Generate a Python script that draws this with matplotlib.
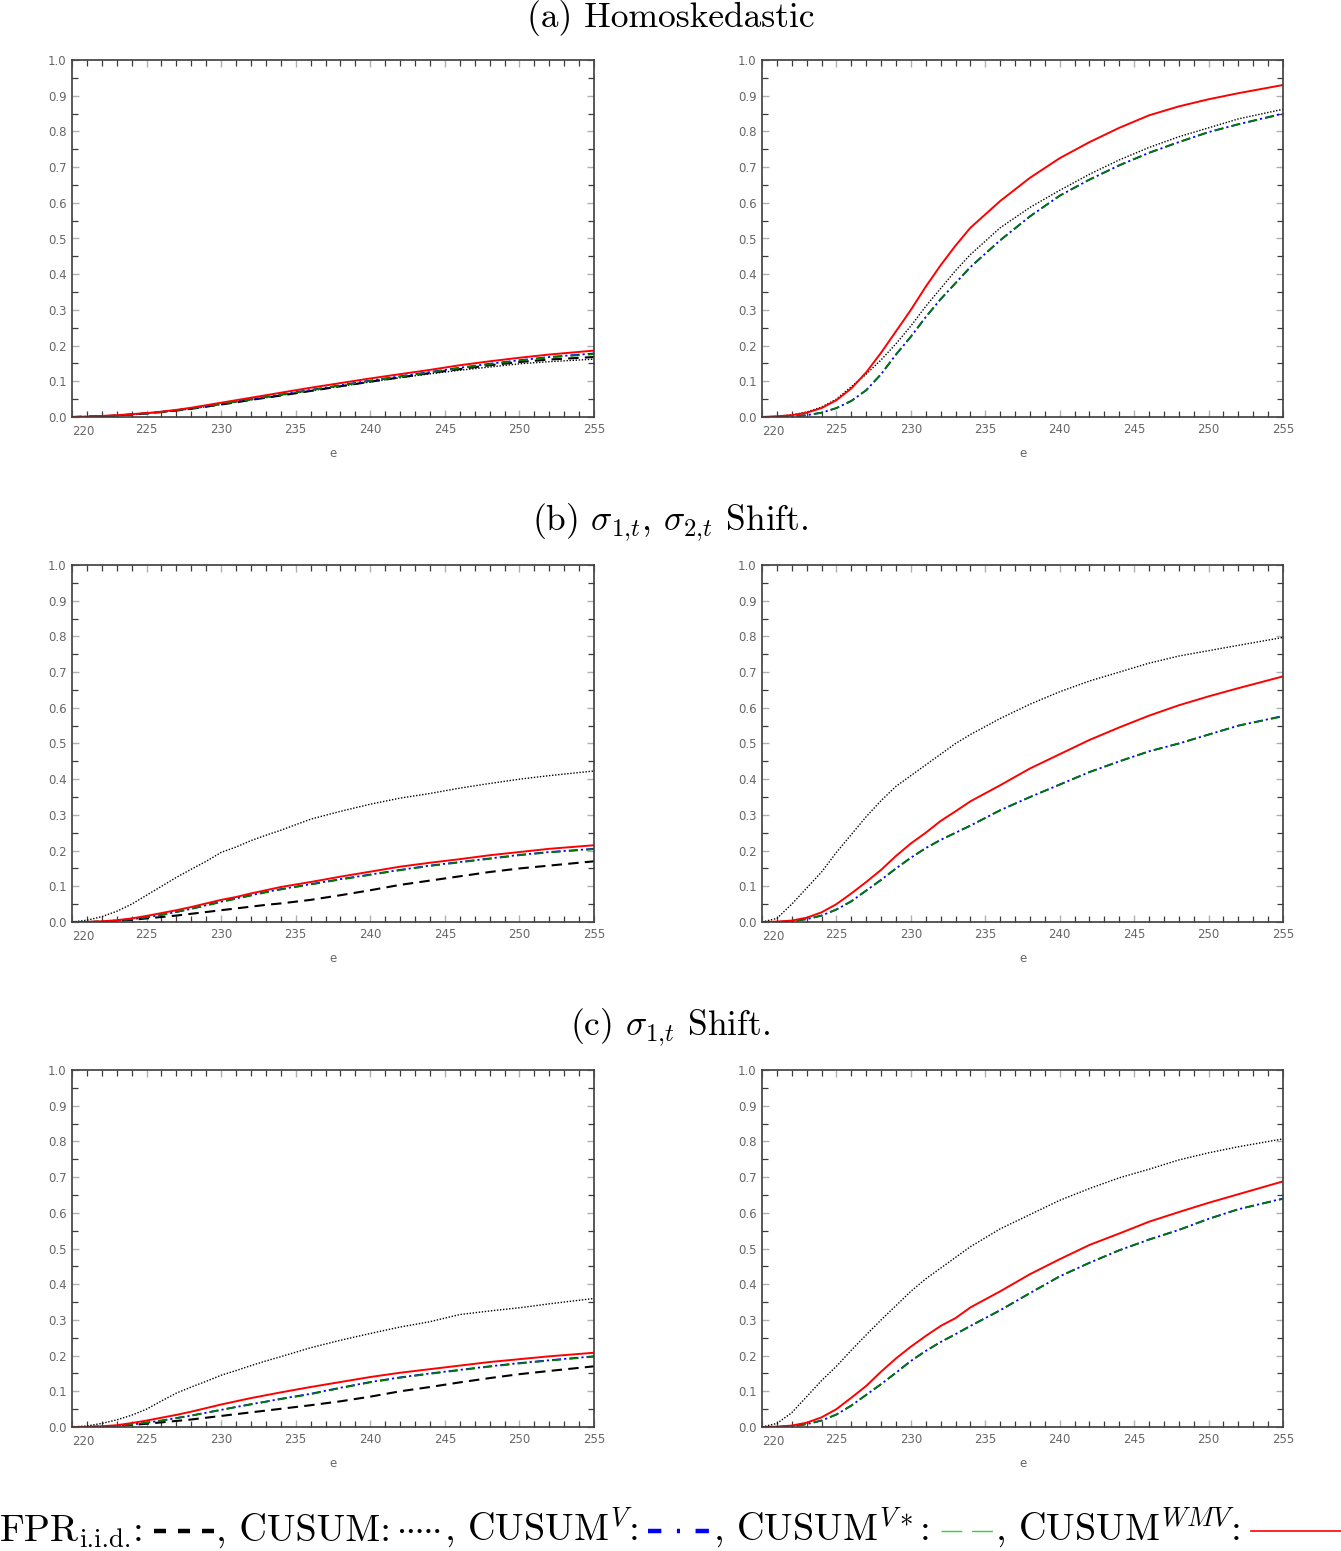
import numpy as np
import matplotlib
matplotlib.use("Agg")
import matplotlib.pyplot as plt
from matplotlib.lines import Line2D
from matplotlib.ticker import MultipleLocator

plt.rcParams['mathtext.fontset'] = 'cm'
plt.rcParams['axes.unicode_minus'] = False

# --- data ---
e = [220, 221, 222, 223, 224, 225, 226, 227, 228, 229, 230, 231, 232, 233, 234,
     236, 238, 240, 242, 244, 246, 248, 250, 252, 255]

# (a) Homoskedastic
a_l_fpr = [0, 0.001, 0.002, 0.004, 0.007, 0.010, 0.014, 0.018, 0.023, 0.029, 0.035, 0.041, 0.048,
           0.054, 0.060, 0.073, 0.086, 0.099, 0.111, 0.123, 0.134, 0.145, 0.154, 0.161, 0.168]
a_l_cusum = [0, 0.001, 0.002, 0.004, 0.007, 0.010, 0.014, 0.018, 0.023, 0.029, 0.035, 0.042, 0.048,
             0.054, 0.061, 0.073, 0.086, 0.098, 0.110, 0.121, 0.131, 0.140, 0.149, 0.155, 0.162]
a_l_v = [0, 0.001, 0.002, 0.004, 0.007, 0.010, 0.014, 0.019, 0.024, 0.030, 0.037, 0.043, 0.050,
         0.056, 0.063, 0.076, 0.089, 0.102, 0.114, 0.126, 0.138, 0.149, 0.159, 0.168, 0.178]
a_l_vs = [0, 0.001, 0.002, 0.004, 0.007, 0.010, 0.014, 0.019, 0.024, 0.030, 0.036, 0.043, 0.049,
          0.056, 0.062, 0.075, 0.088, 0.101, 0.113, 0.125, 0.137, 0.148, 0.158, 0.167, 0.176]
a_l_wmv = [0, 0.001, 0.003, 0.005, 0.008, 0.011, 0.015, 0.020, 0.026, 0.033, 0.040, 0.047, 0.054,
           0.061, 0.068, 0.082, 0.095, 0.108, 0.120, 0.132, 0.145, 0.156, 0.166, 0.175, 0.186]

a_r_cusum = [0, 0.002, 0.006, 0.014, 0.028, 0.050, 0.085, 0.120, 0.160, 0.205, 0.255, 0.310, 0.360,
             0.410, 0.455, 0.530, 0.587, 0.635, 0.680, 0.720, 0.755, 0.785, 0.810, 0.835, 0.862]
a_r_v = [0, 0, 0.002, 0.005, 0.012, 0.025, 0.045, 0.075, 0.120, 0.175, 0.225, 0.280, 0.330,
         0.375, 0.420, 0.495, 0.562, 0.620, 0.665, 0.705, 0.740, 0.770, 0.798, 0.820, 0.850]
a_r_vs = [0, 0, 0.002, 0.005, 0.012, 0.025, 0.045, 0.075, 0.120, 0.175, 0.225, 0.280, 0.330,
          0.375, 0.420, 0.495, 0.562, 0.620, 0.665, 0.705, 0.740, 0.770, 0.798, 0.820, 0.849]
a_r_wmv = [0, 0.002, 0.005, 0.012, 0.025, 0.047, 0.080, 0.125, 0.180, 0.240, 0.300, 0.365, 0.425,
           0.480, 0.530, 0.605, 0.670, 0.725, 0.770, 0.810, 0.845, 0.870, 0.890, 0.907, 0.930]

# (b) sigma_1,t, sigma_2,t shift
b_l_fpr = [0, 0, 0.001, 0.003, 0.006, 0.010, 0.014, 0.018, 0.023, 0.028, 0.033, 0.038, 0.043,
           0.048, 0.052, 0.062, 0.075, 0.089, 0.104, 0.116, 0.128, 0.140, 0.150, 0.158, 0.170]
b_l_cusum = [0, 0.005, 0.015, 0.030, 0.050, 0.075, 0.100, 0.125, 0.148, 0.170, 0.195, 0.210, 0.228,
             0.243, 0.257, 0.288, 0.310, 0.330, 0.347, 0.360, 0.375, 0.388, 0.400, 0.410, 0.423]
b_l_v = [0, 0, 0.001, 0.004, 0.008, 0.013, 0.020, 0.028, 0.037, 0.047, 0.057, 0.066, 0.075,
         0.084, 0.092, 0.106, 0.120, 0.133, 0.146, 0.158, 0.168, 0.178, 0.188, 0.196, 0.205]
b_l_vs = [0, 0, 0.001, 0.004, 0.008, 0.013, 0.020, 0.028, 0.037, 0.046, 0.056, 0.065, 0.074,
          0.083, 0.091, 0.105, 0.119, 0.132, 0.145, 0.157, 0.167, 0.177, 0.187, 0.195, 0.204]
b_l_wmv = [0, 0, 0.002, 0.005, 0.010, 0.017, 0.025, 0.033, 0.042, 0.052, 0.062, 0.070, 0.080,
           0.089, 0.098, 0.112, 0.127, 0.141, 0.155, 0.166, 0.176, 0.187, 0.196, 0.205, 0.215]

b_r_cusum = [0, 0.010, 0.050, 0.095, 0.140, 0.195, 0.245, 0.295, 0.340, 0.380, 0.410, 0.440, 0.470,
             0.500, 0.525, 0.570, 0.610, 0.645, 0.675, 0.700, 0.725, 0.745, 0.760, 0.775, 0.797]
b_r_v = [0, 0, 0.002, 0.008, 0.018, 0.035, 0.058, 0.088, 0.118, 0.150, 0.180, 0.207, 0.230,
         0.250, 0.270, 0.313, 0.350, 0.385, 0.420, 0.450, 0.478, 0.500, 0.525, 0.550, 0.577]
b_r_vs = [0, 0, 0.002, 0.008, 0.018, 0.035, 0.058, 0.088, 0.118, 0.150, 0.180, 0.207, 0.230,
          0.250, 0.270, 0.313, 0.350, 0.385, 0.420, 0.450, 0.478, 0.500, 0.525, 0.550, 0.576]
b_r_wmv = [0, 0.001, 0.004, 0.012, 0.027, 0.050, 0.080, 0.112, 0.146, 0.185, 0.220, 0.250, 0.283,
           0.310, 0.338, 0.383, 0.430, 0.470, 0.510, 0.545, 0.578, 0.607, 0.632, 0.655, 0.688]

# (c) sigma_1,t shift
c_l_fpr = [0, 0, 0.001, 0.003, 0.006, 0.009, 0.013, 0.017, 0.021, 0.026, 0.031, 0.036, 0.041,
           0.046, 0.051, 0.061, 0.072, 0.085, 0.100, 0.112, 0.125, 0.137, 0.148, 0.157, 0.170]
c_l_cusum = [0, 0.003, 0.010, 0.020, 0.033, 0.050, 0.073, 0.095, 0.112, 0.128, 0.145, 0.158, 0.172,
             0.185, 0.197, 0.222, 0.243, 0.262, 0.280, 0.295, 0.315, 0.325, 0.334, 0.345, 0.360]
c_l_v = [0, 0, 0.001, 0.003, 0.007, 0.012, 0.018, 0.025, 0.032, 0.040, 0.048, 0.056, 0.064,
         0.071, 0.079, 0.093, 0.110, 0.126, 0.139, 0.150, 0.160, 0.170, 0.179, 0.187, 0.198]
c_l_vs = [0, 0, 0.001, 0.003, 0.007, 0.012, 0.018, 0.025, 0.032, 0.040, 0.048, 0.056, 0.063,
          0.071, 0.078, 0.092, 0.109, 0.125, 0.138, 0.149, 0.159, 0.169, 0.178, 0.186, 0.197]
c_l_wmv = [0, 0, 0.002, 0.005, 0.011, 0.018, 0.026, 0.034, 0.043, 0.053, 0.063, 0.072, 0.081,
           0.089, 0.097, 0.112, 0.126, 0.140, 0.152, 0.162, 0.172, 0.182, 0.190, 0.198, 0.208]

c_r_cusum = [0, 0.010, 0.040, 0.085, 0.130, 0.170, 0.215, 0.258, 0.300, 0.340, 0.380, 0.415, 0.445,
             0.475, 0.505, 0.555, 0.595, 0.635, 0.668, 0.698, 0.722, 0.748, 0.768, 0.785, 0.807]
c_r_v = [0, 0, 0.002, 0.008, 0.018, 0.035, 0.060, 0.090, 0.120, 0.152, 0.185, 0.213, 0.238,
         0.260, 0.283, 0.327, 0.375, 0.422, 0.460, 0.495, 0.525, 0.552, 0.583, 0.610, 0.640]
c_r_vs = [0, 0, 0.002, 0.008, 0.018, 0.035, 0.060, 0.090, 0.120, 0.152, 0.185, 0.213, 0.238,
          0.260, 0.283, 0.327, 0.375, 0.422, 0.460, 0.495, 0.525, 0.552, 0.583, 0.610, 0.639]
c_r_wmv = [0, 0.001, 0.004, 0.012, 0.027, 0.050, 0.082, 0.115, 0.155, 0.192, 0.225, 0.255, 0.283,
           0.305, 0.335, 0.380, 0.428, 0.470, 0.510, 0.542, 0.575, 0.602, 0.628, 0.652, 0.688]

titles = [r'(a) Homoskedastic',
          r'(b) $\sigma_{1{,}t}$, $\sigma_{2{,}t}$ Shift.',
          r'(c) $\sigma_{1{,}t}$ Shift.']

# --- styles ---
RED = '#ff0000'
BLUE = '#0000ff'
GREEN = '#007a00'
LIME = '#22dd22'
GREY = '#666666'
FRAME = '#3c3c3c'

W, H = 1341, 1551
fig = plt.figure(figsize=(W / 100, H / 100), dpi=100)

left_x = (72 / W, 522 / W)
right_x = (762 / W, 521 / W)
row_tops = [60, 565, 1070]
title_ys = [18, 522, 1027]
ax_h = 357


def xfmt(v_, p):
    # first label is drawn separately, shifted right
    return '' if abs(v_ - 220) < 1e-6 else f'{v_:.0f}'


def draw_panel(ax, fpr, cusum, v, vs, wmv):
    if fpr is not None:
        ax.plot(e, fpr, color='black', lw=1.5, ls=(0, (5, 3)))
    ax.plot(e, cusum, color='black', lw=1.0, ls=(0, (1, 1.2)))
    ax.plot(e, v, color=BLUE, lw=1.3, ls=(0, (5, 1.7, 1.2, 1.7)))
    ax.plot(e, vs, color=GREEN, lw=1.3, ls=(0, (5, 4.6)))
    ax.plot(e, wmv, color=RED, lw=1.4)

    ax.set_xlim(220, 255)
    ax.set_ylim(0, 1)
    ax.xaxis.set_major_locator(MultipleLocator(5))
    ax.xaxis.set_minor_locator(MultipleLocator(1))
    ax.yaxis.set_major_locator(MultipleLocator(0.1))
    ax.yaxis.set_minor_locator(MultipleLocator(0.05))
    ax.xaxis.set_major_formatter(plt.FuncFormatter(xfmt))
    ax.yaxis.set_major_formatter(plt.FuncFormatter(lambda v_, p: f'{v_:.1f}'))
    ax.tick_params(which='both', direction='in', top=True, right=True)
    ax.tick_params(which='major', length=5, width=1.0, color='#b0b0b0',
                   labelsize=8.5, labelcolor=GREY, pad=4)
    ax.tick_params(which='minor', length=4, width=0.9, color=FRAME)
    for sp in ax.spines.values():
        sp.set_color(FRAME)
        sp.set_linewidth(1.2)
    ax.set_xlabel('e', fontsize=8.5, color=GREY, labelpad=8)
    ax.annotate('220', xy=(220, 0), xycoords=('data', 'axes fraction'),
                xytext=(0, -5.5), textcoords='offset points', ha='left', va='top',
                fontsize=8.5, color=GREY)


panels = [
    ((a_l_fpr, a_l_cusum, a_l_v, a_l_vs, a_l_wmv), (None, a_r_cusum, a_r_v, a_r_vs, a_r_wmv)),
    ((b_l_fpr, b_l_cusum, b_l_v, b_l_vs, b_l_wmv), (None, b_r_cusum, b_r_v, b_r_vs, b_r_wmv)),
    ((c_l_fpr, c_l_cusum, c_l_v, c_l_vs, c_l_wmv), (None, c_r_cusum, c_r_v, c_r_vs, c_r_wmv)),
]

for i, (lp, rp) in enumerate(panels):
    bottom = 1 - (row_tops[i] + ax_h) / H
    axl = fig.add_axes([left_x[0], bottom, left_x[1], ax_h / H])
    axr = fig.add_axes([right_x[0], bottom, right_x[1], ax_h / H])
    draw_panel(axl, *lp)
    draw_panel(axr, *rp)
    fig.text(0.5, 1 - title_ys[i] / H, titles[i], ha='center', va='center',
             fontsize=25.5, family='cmr10')

# --- legend line along the bottom ---
renderer = fig.canvas.get_renderer()
FS = 27.5
base_y = 1 - 1541 / H
mid_y = 1 - 1531 / H


def put(txt, x_px, size=FS, dy_px=0):
    t = fig.text(x_px / W, base_y - dy_px / H, txt, ha='left', va='baseline',
                 fontsize=size, family='cmr10')
    return t.get_window_extent(renderer=renderer).width


def sample(x_px, sw, **style):
    fig.add_artist(Line2D([x_px / W, (x_px + sw) / W], [mid_y, mid_y],
                          transform=fig.transFigure, **style))


cursor = 0.0
cursor += put('FPR', cursor)
cursor += put('i.i.d.', cursor, size=FS * 0.7, dy_px=6) + 1
cursor += put(':', cursor) + 11
sample(cursor, 60, color='black', lw=3.2, ls=(0, (2.7, 2.7)))
cursor += 60 + 2

legend_items = [
    (r', CUSUM:', 40, dict(color='black', lw=3.0, ls=(0, (0.01, 2.1)),
                           dash_capstyle='round')),
    (r', CUSUM$^{V}$:', 63, dict(color=BLUE, lw=3.2, ls=(0, (3, 3.5, 0.7, 3.5)))),
    (r', CUSUM$^{V*}$:', 52, dict(color=LIME, lw=1.0, ls=(0, (15, 7)))),
    (r', CUSUM$^{WMV}$:', 90, dict(color=RED, lw=1.2, ls='-')),
]
for txt, sw, style in legend_items:
    cursor += put(txt, cursor) + 11
    sample(cursor, sw, **style)
    cursor += sw + 2

fig.savefig('out.png', dpi=100)
